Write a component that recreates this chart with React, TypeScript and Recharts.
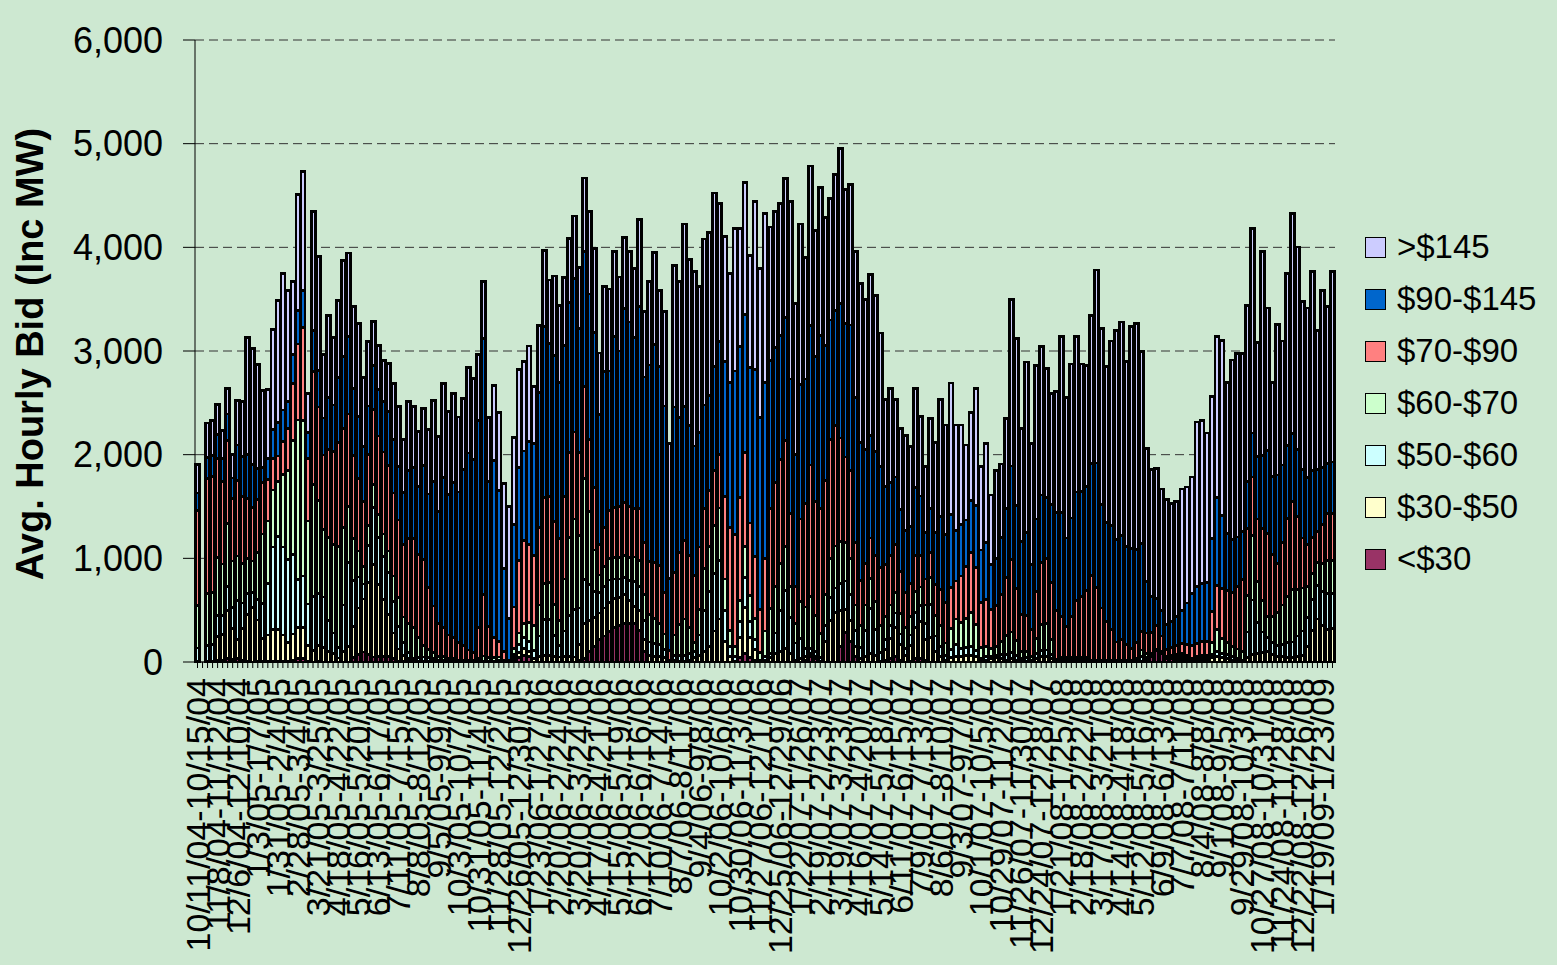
import React from 'react';
import { BarChart, Bar, XAxis, YAxis, CartesianGrid, Legend } from 'recharts';

const FONT = '"Liberation Sans", Arial, sans-serif';

// stacked segments per weekly period (Inc MW), index 0..226
const lt30 = [
  0,0,0,0,15,15,32,25,32,20,
  10,0,5,10,10,10,5,10,10,20,
  32,30,10,0,10,0,0,0,0,0,
  0,40,70,97,70,49,50,50,55,30,
  5,5,5,0,0,0,0,0,0,0,
  0,0,0,0,0,0,0,0,0,0,
  0,0,0,20,40,65,50,0,0,0,
  0,0,0,0,0,0,20,33,100,150,
  216,250,292,330,350,372,370,375,300,100,
  0,0,0,0,0,0,0,0,0,0,
  0,0,0,0,0,0,0,0,40,83,
  40,20,0,0,0,0,0,0,0,0,
  0,20,50,30,0,0,0,0,150,282,
  200,50,0,0,0,0,0,20,30,50,
  20,0,10,30,33,20,0,0,0,0,
  0,0,0,0,0,0,0,0,0,0,
  0,0,0,0,0,0,0,0,0,0,
  0,0,0,0,0,0,0,0,0,0,
  0,0,0,0,0,0,0,0,0,10,
  50,113,80,30,30,25,20,10,0,0,
  0,0,0,0,0,0,0,0,0,0,
  0,0,0,0,0,0,0,0,0,0,
  0,0,0,0,0,0,0,
];
const s30to50 = [
  8,0,10,10,230,250,462,300,186,300,
  450,526,400,217,250,300,310,250,178,250,
  299,300,150,114,150,140,100,80,39,100,
  153,300,450,510,700,893,700,550,400,250,
  120,60,30,10,10,10,10,10,10,10,
  10,10,5,5,5,5,5,5,5,5,
  10,5,5,20,50,65,50,32,50,60,
  65,55,49,50,50,49,150,342,300,280,
  256,270,283,280,270,276,220,157,200,120,
  60,55,50,40,10,20,10,10,20,43,
  60,100,150,300,415,200,50,10,200,442,
  200,100,10,20,43,80,100,133,80,17,
  30,30,33,20,10,200,400,475,350,226,
  200,100,33,50,83,60,10,100,200,282,
  150,60,150,300,356,200,233,100,50,20,
  40,50,50,60,66,50,10,20,30,40,
  30,20,30,20,10,10,10,30,50,50,
  30,8,10,10,10,10,10,10,5,5,
  5,5,5,5,5,5,5,5,10,10,
  5,5,5,10,10,15,20,15,10,15,
  20,20,40,56,40,30,20,15,7,40,
  76,80,90,100,70,50,50,45,43,50,
  60,150,300,415,350,316,320,
];
const s50to60 = [
  128,0,150,156,200,180,236,200,376,250,
  200,146,200,341,500,800,896,850,802,770,
  464,500,400,519,500,487,300,200,101,450,
  805,450,300,146,350,552,450,420,405,300,
  215,120,60,25,30,39,30,20,10,10,
  5,5,5,5,5,5,5,5,5,5,
  10,5,5,30,80,107,100,82,200,350,
  347,200,107,250,400,461,350,422,350,250,
  199,210,216,190,180,166,200,242,230,180,
  133,125,116,80,3,40,50,56,60,57,
  200,400,531,550,565,300,100,46,150,289,
  150,100,7,30,40,200,400,558,350,166,
  200,80,50,50,33,150,220,239,260,273,
  250,150,110,250,432,250,80,100,120,140,
  100,73,100,150,159,150,322,150,100,46,
  80,116,80,80,84,60,23,30,20,26,
  40,56,60,40,23,30,10,50,60,66,
  40,5,10,10,10,10,10,10,5,5,
  5,5,5,5,5,5,5,10,40,20,
  10,5,5,10,10,15,20,15,10,15,
  20,20,30,44,40,40,36,20,10,250,
  522,300,200,133,120,106,120,140,150,200,
  239,280,300,322,330,342,340,
];
const s60to70 = [
  412,0,500,503,560,500,608,450,429,380,
  340,302,450,666,600,550,533,700,861,1100,
  1539,1500,800,1078,900,649,800,850,974,750,
  542,400,250,166,200,217,220,215,211,250,
  282,250,280,296,200,107,80,60,35,30,
  17,20,10,6,6,6,20,48,30,30,
  29,10,6,60,110,136,180,237,300,350,
  357,300,243,500,750,870,700,970,700,400,
  169,190,206,210,210,216,220,239,250,250,
  262,240,209,150,4,200,300,349,250,89,
  250,400,432,470,505,300,150,94,200,299,
  250,200,76,250,432,450,450,422,300,192,
  350,400,498,350,233,300,380,405,400,375,
  350,250,206,250,292,270,259,220,200,202,
  200,199,180,200,176,180,259,200,200,117,
  200,249,250,280,325,250,110,100,80,84,
  130,180,200,150,67,60,36,150,250,259,
  150,10,20,23,20,20,23,20,7,10,
  10,7,7,7,7,7,7,20,66,40,
  20,0,10,6,10,15,23,20,13,20,
  25,26,120,216,150,120,94,90,83,350,
  621,400,300,206,250,319,380,450,505,450,
  415,300,250,226,270,322,320,
];
const s70to90 = [
  915,0,1110,1117,960,800,795,600,730,650,
  580,520,510,497,400,300,243,320,399,550,
  734,900,600,1088,900,721,850,900,1003,950,
  893,800,700,630,680,721,760,790,822,800,
  747,700,820,860,800,834,600,450,318,280,
  228,200,170,140,100,75,300,591,300,200,
  146,80,0,400,700,802,750,678,750,830,
  828,800,793,800,820,838,800,887,700,600,
  296,380,465,480,490,508,490,465,500,500,
  518,540,555,400,93,600,700,758,700,648,
  600,580,541,530,518,800,1000,1079,1000,907,
  700,600,415,700,963,1000,1000,1023,700,356,
  800,1000,1269,1100,1202,1100,1150,1163,1000,821,
  850,600,438,400,389,450,565,500,480,462,
  400,342,320,350,306,250,239,300,350,388,
  400,366,450,500,578,550,432,450,380,398,
  450,558,700,500,355,350,260,450,600,622,
  550,475,400,296,400,550,588,650,814,700,
  500,375,300,176,200,150,116,150,176,200,
  200,226,150,67,80,90,93,110,126,130,
  135,133,300,425,480,500,524,600,697,650,
  565,600,700,800,600,478,600,750,847,700,
  482,400,350,292,380,455,450,
];
const s90to145 = [
  168,0,200,205,230,220,260,200,341,380,
  420,412,300,142,200,280,325,300,266,280,
  325,350,250,399,350,357,500,450,626,700,
  747,650,600,526,470,425,450,490,526,520,
  513,500,650,682,650,903,900,1200,1078,1450,
  1357,1500,1450,1704,1900,1864,2000,2468,1400,1700,
  1461,800,406,800,900,861,1000,1075,1300,1650,
  1478,1600,1503,1450,1450,1483,1200,1309,1400,1500,
  1253,1500,1345,1650,1500,1874,1780,1652,1950,1600,
  1891,2100,1917,1800,697,1600,1300,1292,1250,1246,
  1100,1000,914,1000,1087,1300,1400,1578,1450,1329,
  1500,1800,1851,1700,1432,1300,1200,1186,1300,1269,
  1300,1200,1346,1400,1668,1300,1150,1106,1300,1289,
  1400,1400,1329,1100,987,1000,970,750,700,648,
  600,598,550,650,571,450,425,500,700,658,
  700,491,500,450,508,600,505,550,430,449,
  550,664,900,800,708,800,624,700,650,588,
  750,947,1000,857,950,1050,1014,1000,1086,1200,
  1000,954,1000,986,1000,950,963,900,848,500,
  350,266,250,236,250,280,322,400,505,550,
  560,565,700,844,700,550,505,480,465,450,
  425,600,700,804,750,851,750,700,658,650,
  664,650,650,605,550,482,500,
];
const gt145 = [
  275,0,335,337,289,265,247,228,429,530,
  1127,1117,1002,747,667,968,1172,1320,1065,699,
  1113,1150,378,1149,1102,610,794,653,741,923,
  805,792,899,668,618,425,422,391,461,535,
  582,511,665,591,534,552,624,786,728,908,
  802,853,724,682,825,782,634,552,620,729,
  747,821,1078,832,941,863,919,555,647,731,
  610,769,747,661,614,601,584,705,799,807,
  591,821,791,823,714,684,683,667,839,632,
  810,887,734,912,1303,1361,1314,1761,1600,1681,
  1411,1600,1575,1675,1335,1203,1044,1372,1139,1276,
  1080,1625,1435,1626,1286,1316,1275,1339,1715,1455,
  1546,1174,1538,1213,1432,1236,1168,1313,1490,1292,
  1358,1413,1538,1448,1555,1508,1289,842,905,748,
  782,914,766,955,768,637,871,866,1132,1057,
  1271,1014,956,723,848,1125,807,960,671,853,
  710,871,1608,1610,1086,1644,1170,1477,1430,1249,
  1071,1163,1700,1359,1484,1500,1229,1167,1422,1861,
  1699,1508,1779,2017,2062,1780,2143,2177,1857,1280,
  1219,1252,1168,1209,1138,1111,1170,1118,1120,1586,
  1572,1445,1368,1555,1690,1458,1735,1768,1711,1699,
  1970,1100,1973,1372,908,1452,1196,1659,2123,1953,
  1618,1635,1914,1336,1701,1515,1834,
];

const yTicks = [0, 1000, 2000, 3000, 4000, 5000, 6000];

// series: bottom to top of each stack
const seriesDefs = [
  { key: 'lt30', name: '<$30', color: '#993366', values: lt30 },
  { key: 's30', name: '$30-$50', color: '#FFFFCC', values: s30to50 },
  { key: 's50', name: '$50-$60', color: '#CCFFFF', values: s50to60 },
  { key: 's60', name: '$60-$70', color: '#CCFFCC', values: s60to70 },
  { key: 's70', name: '$70-$90', color: '#FF8080', values: s70to90 },
  { key: 's90', name: '$90-$145', color: '#0066CC', values: s90to145 },
  { key: 'gt145', name: '>$145', color: '#CCCCFF', values: gt145 },
];

// weekly category labels (Mon-Fri ranges)
const fmt = (d: Date) => `${d.getUTCMonth() + 1}/${d.getUTCDate()}/${String(d.getUTCFullYear()).slice(2)}`;
const DAY = 86400000;
const startA = Date.UTC(2004, 9, 11);
const startB = Date.UTC(2005, 2, 21);
const categories: string[] = lt30.map((_, k) => {
  const t = k <= 20 ? startA + 7 * k * DAY : startB + 7 * (k - 24) * DAY;
  return `${fmt(new Date(t))}-${fmt(new Date(t + 4 * DAY))}`;
});

const data = categories.map((label, i) => {
  const row: Record<string, any> = { label };
  seriesDefs.forEach((s) => {
    row[s.key] = s.values[i];
  });
  return row;
});

const XTick = (props: any) => {
  const { x, y, payload, index } = props;
  if (index % 4 !== 0) return null;
  return (
    <text
      x={x}
      y={y}
      transform={`rotate(-90, ${x}, ${y})`}
      textAnchor="end"
      dominantBaseline="central"
      fontSize={34}
      fontFamily={FONT}
      fill="#000"
    >
      {payload.value}
    </text>
  );
};

const YTitle = () => (
  <text
    x={30}
    y={354}
    transform="rotate(-90, 30, 354)"
    textAnchor="middle"
    dominantBaseline="central"
    fontSize={38}
    fontWeight="bold"
    fontFamily={FONT}
    fill="#000"
  >
    Avg. Hourly Bid (Inc MW)
  </text>
);

const renderLegend = () => (
  <div style={{ fontFamily: FONT, fontSize: 33, color: '#000' }}>
    {[...seriesDefs].reverse().map((s) => (
      <div key={s.key} style={{ display: 'flex', alignItems: 'center', height: 52 }}>
        <span
          style={{
            display: 'inline-block',
            width: 21,
            height: 21,
            background: s.color,
            border: '1.5px solid #000',
            boxSizing: 'border-box',
            marginRight: 11,
          }}
        />
        <span>{s.name}</span>
      </div>
    ))}
  </div>
);

export default function App() {
  return (
    <div style={{ position: 'absolute', left: 0, top: 0, width: 1557, height: 965, background: '#CDE8D1' }}>
      <style>{`.recharts-rectangle { shape-rendering: crispEdges; }`}</style>
      <BarChart
        width={1557}
        height={965}
        data={data}
        margin={{ top: 40, right: 222, bottom: 0, left: 0 }}
        barCategoryGap="12%"
        style={{ fontFamily: FONT }}
      >
        <CartesianGrid vertical={false} stroke="#333" strokeDasharray="9 5" />
        <XAxis
          dataKey="label"
          interval={0}
          height={303}
          tick={<XTick />}
          tickSize={6}
          tickMargin={10}
          tickLine={{ stroke: '#000' }}
          axisLine={{ stroke: '#000' }}
        />
        <YAxis
          width={195}
          domain={[0, 6000]}
          ticks={yTicks}
          interval={0}
          tickFormatter={(v: number) => v.toLocaleString('en-US')}
          tick={{ fontSize: 36, fill: '#000', fontFamily: FONT }}
          tickSize={12}
          tickMargin={20}
          tickLine={{ stroke: '#000' }}
          axisLine={{ stroke: '#000' }}
          label={<YTitle />}
        />
        <Legend
          layout="vertical"
          align="center"
          verticalAlign="middle"
          wrapperStyle={{ left: 1365, top: 221, width: 190 }}
          content={renderLegend}
        />
        {seriesDefs.map((s) => (
          <Bar
            key={s.key}
            dataKey={s.key}
            name={s.name}
            stackId="a"
            fill={s.color}
            stroke="#000"
            strokeWidth={2.8}
            isAnimationActive={false}
          />
        ))}
      </BarChart>
    </div>
  );
}
